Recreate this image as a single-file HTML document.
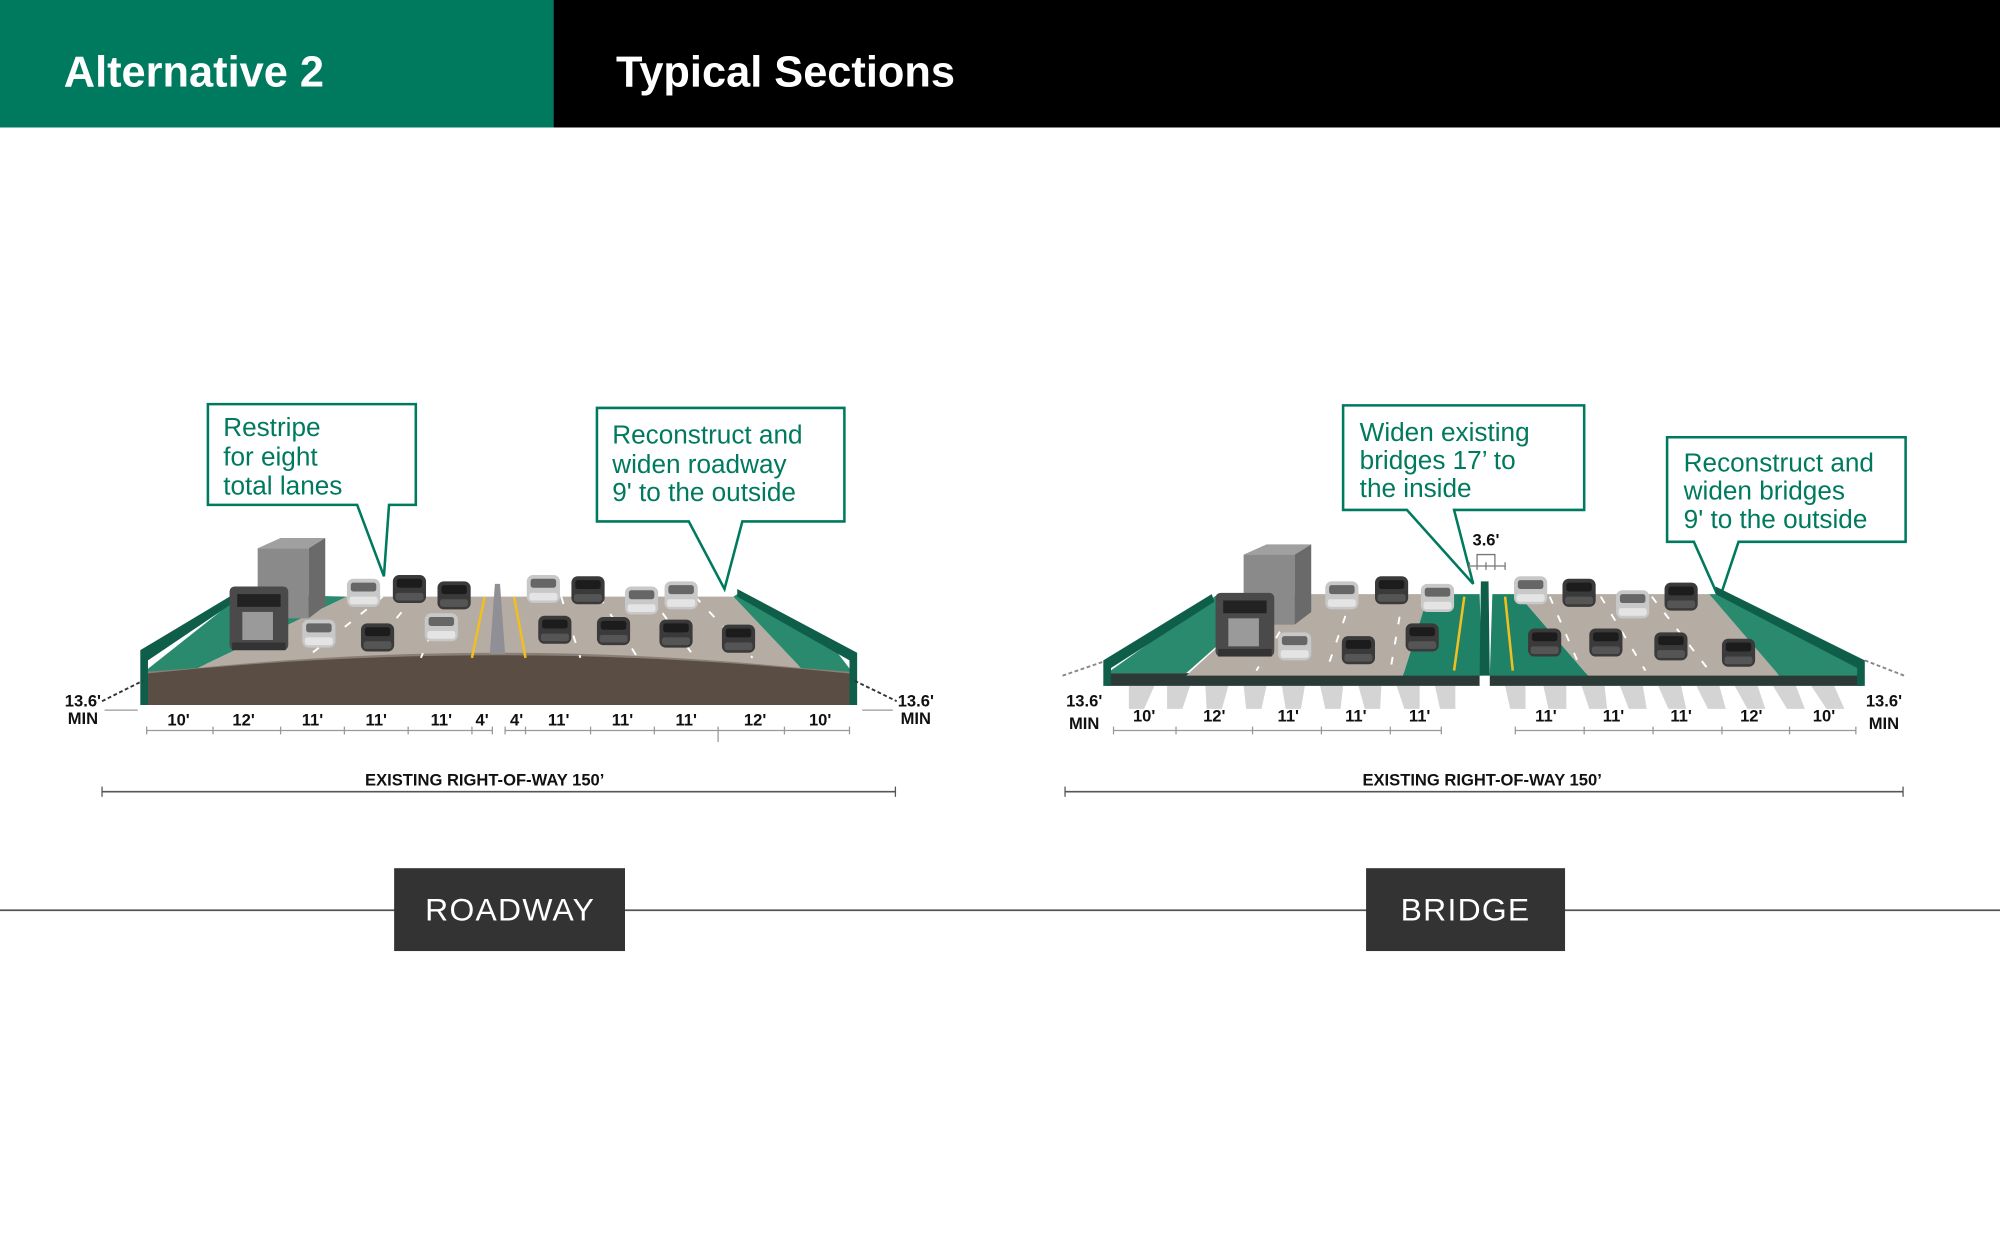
<!DOCTYPE html>
<html><head><meta charset="utf-8"><style>
html,body{margin:0;padding:0;background:#fff;}
svg{display:block;}
.h{font-family:"Liberation Sans",sans-serif;font-weight:bold;fill:#fff;}
.c{font-family:"Liberation Sans",sans-serif;fill:#007a5e;font-size:20.5px;}
.d{font-family:"Liberation Sans Narrow","Liberation Sans",sans-serif;font-weight:bold;fill:#111;font-size:13px;}
.b{font-family:"Liberation Sans",sans-serif;fill:#fff;font-size:25px;letter-spacing:1px;}
</style></head><body>
<svg width="2000" height="1243" viewBox="0 0 1568 975" preserveAspectRatio="none" xmlns="http://www.w3.org/2000/svg">
<defs>
<g id="car"><rect x="-13" y="-11" width="26" height="22" rx="5" fill="#3a3a3a"/><rect x="-10" y="-8" width="20" height="7" rx="2" fill="#1c1c1c"/><rect x="-11" y="3" width="22" height="6" rx="2" fill="#555"/></g>
<g id="carl"><rect x="-13" y="-11" width="26" height="22" rx="5" fill="#c8c8c8"/><rect x="-10" y="-8" width="20" height="7" rx="2" fill="#666"/><rect x="-11" y="3" width="22" height="6" rx="2" fill="#e4e4e4"/></g>
<g id="truck"><rect x="22" y="-40" width="40" height="55" fill="#8a8a8a"/><polygon points="22,-40 40,-48 75,-48 62,-40" fill="#a0a0a0"/><polygon points="62,-40 75,-48 75,5 62,15" fill="#6a6a6a"/><rect x="0" y="-10" width="46" height="50" rx="4" fill="#4a4a4a"/><rect x="6" y="-4" width="34" height="10" fill="#222"/><rect x="10" y="10" width="24" height="22" fill="#9a9a9a"/><rect x="2" y="34" width="42" height="6" fill="#333"/></g>
</defs>
<rect width="1568" height="975" fill="#fff"/>
<rect x="0" y="0" width="434" height="100" fill="#007a5e"/>
<rect x="434" y="0" width="1134" height="100" fill="#000"/>
<text class="h" x="50" y="68" font-size="34">Alternative 2</text>
<text class="h" x="483" y="68" font-size="34">Typical Sections</text>

<!-- ROADWAY -->
<path d="M113,527 Q390,498 668,527 L668,553 L113,553 Z" fill="#5a4d44"/>
<path d="M113,527 Q390,498 668,527" fill="none" stroke="#8a7f76" stroke-width="3"/>
<polygon points="113,527 155,524 272,468 190,466" fill="#2a8a6e"/>
<path d="M155,524 Q390,500 628,524 L575,468 L272,468 Z" fill="#b5aca4"/>
<polygon points="628,524 668,527 655,510 578,466 575,468" fill="#2a8a6e"/>
<polygon points="110,510 190,462 190,468 116,518 116,553 110,553" fill="#0f5e4a"/>
<polygon points="578,462 672,512 672,553 666,553 666,518 578,468" fill="#0f5e4a"/>
<polygon points="388,458 392,458 396,513 384,513" fill="#8f8f95"/>
<line x1="380" y1="468" x2="370" y2="516" stroke="#f0c020" stroke-width="2"/>
<line x1="403" y1="468" x2="412" y2="516" stroke="#f0c020" stroke-width="2"/>
<g stroke="#fff" stroke-width="1.5" stroke-dasharray="6 10">
<line x1="300" y1="468" x2="240" y2="516"/><line x1="325" y1="468" x2="285" y2="516"/><line x1="350" y1="468" x2="330" y2="516"/>
<line x1="440" y1="468" x2="455" y2="516"/><line x1="470" y1="468" x2="500" y2="516"/><line x1="510" y1="468" x2="545" y2="516"/><line x1="545" y1="468" x2="590" y2="516"/>
</g>
<use href="#truck" x="180" y="470"/>
<use href="#carl" x="250" y="497"/><use href="#car" x="296" y="500"/><use href="#carl" x="346" y="492"/>
<use href="#carl" x="285" y="465"/><use href="#car" x="321" y="462"/><use href="#car" x="356" y="467"/>
<use href="#carl" x="426" y="462"/><use href="#car" x="461" y="463"/><use href="#carl" x="503" y="471"/><use href="#carl" x="534" y="467"/>
<use href="#car" x="435" y="494"/><use href="#car" x="481" y="495"/><use href="#car" x="530" y="497"/><use href="#car" x="579" y="501"/>
<line x1="80" y1="550" x2="112" y2="534" stroke="#333" stroke-width="1.5" stroke-dasharray="3 2"/>
<line x1="670" y1="534" x2="703" y2="550" stroke="#333" stroke-width="1.5" stroke-dasharray="3 2"/>
<text class="d" x="65" y="554" text-anchor="middle">13.6'</text><text class="d" x="65" y="568" text-anchor="middle">MIN</text>
<text class="d" x="718" y="554" text-anchor="middle">13.6'</text><text class="d" x="718" y="568" text-anchor="middle">MIN</text>
<line x1="82" y1="557" x2="108" y2="557" stroke="#999"/><line x1="676" y1="557" x2="700" y2="557" stroke="#999"/>
<g stroke="#999" stroke-width="1"><line x1="115" y1="573" x2="386" y2="573"/><line x1="396" y1="573" x2="666" y2="573"/>
<path d="M115,570v6M167,570v6M220,570v6M270,570v6M320,570v6M370,570v6M386,570v6M396,570v6M412,570v6M463,570v6M513,570v6M563,570v12M615,570v6M666,570v6"/></g>
<g class="d" text-anchor="middle"><text x="140" y="569">10'</text><text x="191" y="569">12'</text><text x="245" y="569">11'</text><text x="295" y="569">11'</text><text x="346" y="569">11'</text><text x="378" y="569">4'</text><text x="405" y="569">4'</text><text x="438" y="569">11'</text><text x="488" y="569">11'</text><text x="538" y="569">11'</text><text x="592" y="569">12'</text><text x="643" y="569">10'</text></g>
<text class="d" x="380" y="616" text-anchor="middle">EXISTING RIGHT-OF-WAY 150’</text>
<line x1="80" y1="621" x2="702" y2="621" stroke="#555" stroke-width="1.2"/><line x1="80" y1="617" x2="80" y2="625" stroke="#555"/><line x1="702" y1="617" x2="702" y2="625" stroke="#555"/>

<!-- callouts -->
<path d="M163,317 H326 V396 H305 L301,452 L280,396 H163 Z" fill="#fff" stroke="#007a5e" stroke-width="2"/>
<text class="c" x="175" y="342">Restripe</text><text class="c" x="175" y="365">for eight</text><text class="c" x="175" y="388">total lanes</text>
<path d="M468,320 H662 V409 H582 L568,462 L540,409 H468 Z" fill="#fff" stroke="#007a5e" stroke-width="2"/>
<text class="c" x="480" y="348">Reconstruct and</text><text class="c" x="480" y="371">widen roadway</text><text class="c" x="480" y="393">9' to the outside</text>
<path d="M1053,318 H1242 V400 H1140 L1155,458 L1103,400 H1053 Z" fill="#fff" stroke="#007a5e" stroke-width="2"/>
<text class="c" x="1066" y="346">Widen existing</text><text class="c" x="1066" y="368">bridges 17’ to</text><text class="c" x="1066" y="390">the inside</text>
<path d="M1307,343 H1494 V425 H1363 L1348,470 L1328,425 H1307 Z" fill="#fff" stroke="#007a5e" stroke-width="2"/>
<text class="c" x="1320" y="370">Reconstruct and</text><text class="c" x="1320" y="392">widen bridges</text><text class="c" x="1320" y="414">9' to the outside</text>

<!-- BRIDGE -->
<g fill="#d4d4d4">
<path d="M885,538h20l-8,18h-12zM915,538h18l-6,18h-12zM945,538h18l-5,18h-12zM975,538h18l-4,18h-12zM1005,538h18l-3,18h-12zM1035,538h18l-2,18h-12zM1065,538h18l-1,18h-12zM1095,538h18v18h-12zM1125,538h16v18h-12zM1180,538h16v18h-12zM1210,538h18v18h-14zM1240,538h18l2,18h-14zM1270,538h18l3,18h-14zM1300,538h18l4,18h-14zM1330,538h18l5,18h-14zM1360,538h18l6,18h-14zM1390,538h18l7,18h-14zM1420,538h18l8,18h-14z"/>
</g>
<path d="M833,530 L868,518 M1462,518 L1493,530" stroke="#888" stroke-width="1.5" stroke-dasharray="3 2"/>
<polygon points="868,528 1160,528 1160,538 868,538" fill="#2b3a36"/>
<polygon points="1168,528 1460,528 1460,538 1168,538" fill="#2b3a36"/>
<polygon points="868,528 930,528 1000,466 955,466" fill="#2a8a6e"/>
<polygon points="930,530 1100,530 1120,466 1000,466" fill="#b5aca4"/>
<polygon points="1100,530 1162,530 1160,466 1120,466" fill="#1f8266"/>
<polygon points="1168,530 1245,530 1190,466 1170,466" fill="#1f8266"/>
<polygon points="1245,530 1395,530 1340,466 1190,466" fill="#b5aca4"/>
<polygon points="1395,530 1460,530 1460,520 1345,466 1340,466" fill="#2a8a6e"/>
<polygon points="865,518 950,466 952,472 871,524 871,538 865,538" fill="#0f5e4a"/>
<polygon points="1345,460 1462,518 1462,538 1456,538 1456,524 1345,466" fill="#0f5e4a"/>
<polygon points="1161,456 1167,456 1168,530 1160,530" fill="#0f5e4a"/>
<line x1="1148" y1="468" x2="1140" y2="526" stroke="#f0c020" stroke-width="2"/>
<line x1="1180" y1="468" x2="1186" y2="526" stroke="#f0c020" stroke-width="2"/>
<g stroke="#fff" stroke-width="1.5" stroke-dasharray="6 10">
<line x1="1020" y1="468" x2="985" y2="526"/><line x1="1060" y1="468" x2="1040" y2="526"/><line x1="1100" y1="468" x2="1090" y2="526"/>
<line x1="1215" y1="468" x2="1240" y2="526"/><line x1="1255" y1="468" x2="1290" y2="526"/><line x1="1295" y1="468" x2="1340" y2="526"/>
</g>
<use href="#truck" x="953" y="475"/>
<use href="#carl" x="1015" y="507"/><use href="#car" x="1065" y="510"/><use href="#car" x="1115" y="500"/>
<use href="#carl" x="1052" y="467"/><use href="#car" x="1091" y="463"/><use href="#carl" x="1127" y="469"/>
<use href="#carl" x="1200" y="463"/><use href="#car" x="1238" y="465"/><use href="#carl" x="1280" y="474"/><use href="#car" x="1318" y="468"/>
<use href="#car" x="1211" y="504"/><use href="#car" x="1259" y="504"/><use href="#car" x="1310" y="507"/><use href="#car" x="1363" y="512"/>
<text class="d" x="1165" y="428" text-anchor="middle">3.6'</text>
<path d="M1158,447v-12h14v12M1152,444h28M1152,441v6M1180,441v6M1165,441v6" fill="none" stroke="#777"/>
<text class="d" x="850" y="554" text-anchor="middle">13.6'</text><text class="d" x="850" y="572" text-anchor="middle">MIN</text>
<text class="d" x="1477" y="554" text-anchor="middle">13.6'</text><text class="d" x="1477" y="572" text-anchor="middle">MIN</text>
<g stroke="#999" stroke-width="1"><line x1="873" y1="573" x2="1130" y2="573"/><line x1="1188" y1="573" x2="1455" y2="573"/>
<path d="M873,570v6M922,570v6M982,570v6M1036,570v6M1090,570v6M1130,570v6M1188,570v6M1242,570v6M1296,570v6M1350,570v6M1403,570v6M1455,570v6"/></g>
<g class="d" text-anchor="middle"><text x="897" y="566">10'</text><text x="952" y="566">12'</text><text x="1010" y="566">11'</text><text x="1063" y="566">11'</text><text x="1113" y="566">11'</text><text x="1212" y="566">11'</text><text x="1265" y="566">11'</text><text x="1318" y="566">11'</text><text x="1373" y="566">12'</text><text x="1430" y="566">10'</text></g>
<text class="d" x="1162" y="616" text-anchor="middle">EXISTING RIGHT-OF-WAY 150’</text>
<line x1="835" y1="621" x2="1492" y2="621" stroke="#555" stroke-width="1.2"/><line x1="835" y1="617" x2="835" y2="625" stroke="#555"/><line x1="1492" y1="617" x2="1492" y2="625" stroke="#555"/>

<!-- bottom -->
<line x1="0" y1="714" x2="1568" y2="714" stroke="#555" stroke-width="1.3"/>
<rect x="309" y="681" width="181" height="65" fill="#333"/>
<text class="b" x="400" y="722" text-anchor="middle">ROADWAY</text>
<rect x="1071" y="681" width="156" height="65" fill="#333"/>
<text class="b" x="1149" y="722" text-anchor="middle">BRIDGE</text>
</svg>
</body></html>
